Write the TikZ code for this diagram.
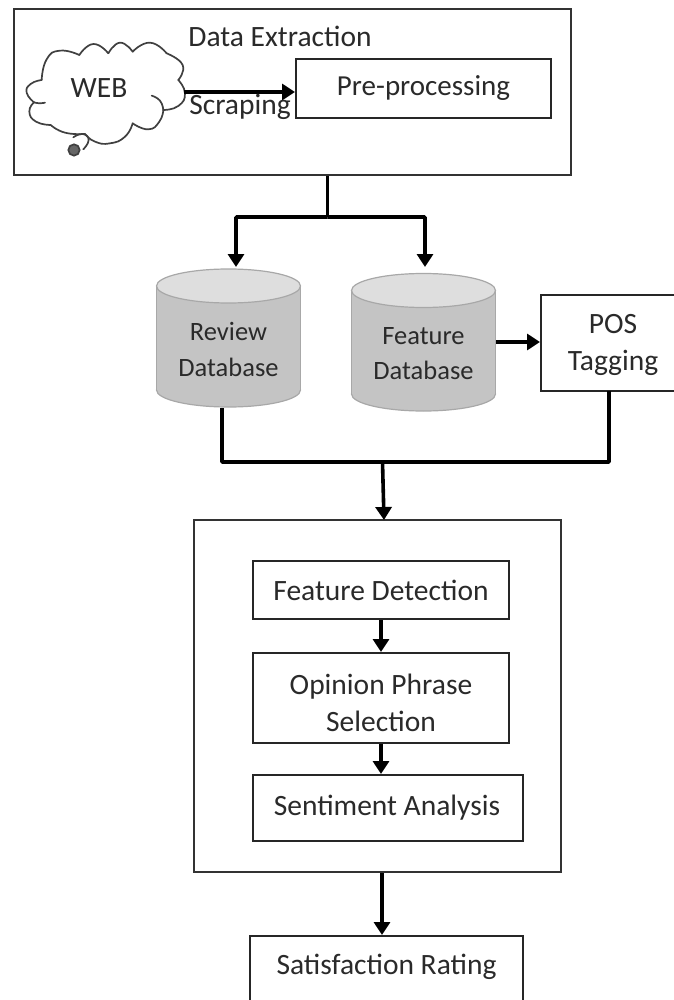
\documentclass[tikz,border=0pt]{standalone}
\usepackage{fontspec}
\setmainfont{Carlito}
\usetikzlibrary{arrows.meta,calc}
\definecolor{txt}{HTML}{2A2A2A}
\definecolor{cylbody}{HTML}{C4C4C4}
\definecolor{cyltop}{HTML}{DEDEDE}
\definecolor{cyledge}{HTML}{A8A8A8}
\tikzset{
  every node/.style={text=txt,font=\fontsize{29.5}{37}\selectfont,align=center,inner sep=0pt},
  boxnode/.style={draw=black!85,line width=2pt,fill=white,rectangle},
  outerbox/.style={draw=black!80,line width=2pt,rectangle},
  flow/.style={draw=black,line width=3.6pt,-{Triangle[length=13pt,width=16pt]}},
  plainline/.style={draw=black,line width=3.6pt,line join=round},
  cloudline/.style={draw=black!75,line width=1.7pt,line cap=round},
  dblabel/.style={font=\fontsize{26.5}{35.5}\selectfont},
}
\newcommand{\dbcyl}[3]{% centre x, top-ellipse y, body-end y
  \fill[cylbody,draw=cyledge,line width=1.2pt] (#1,#3) circle[x radius=72,y radius=17];
  \fill[cylbody] (#1-72,#2) rectangle (#1+72,#3);
  \draw[cyledge,line width=1.2pt] (#1-72,#2) -- (#1-72,#3) (#1+72,#2) -- (#1+72,#3);
  \filldraw[fill=cyltop,draw=cyledge,line width=1.2pt] (#1,#2) circle[x radius=72,y radius=17];
}
\newcommand{\lobe}[1]{\draw[cloudline] plot[smooth,tension=0.9] coordinates {#1};}
\begin{document}
\begin{tikzpicture}[x=1pt,y=-1pt]
\useasboundingbox (0,0) rectangle (673,1000);
\fill[white] (0,0) rectangle (673,1000);
% top box
\node[outerbox,minimum width=557pt,minimum height=166pt] (top) at (292.5,92) {};
\node (dex) at (280,36) {Data Extraction};
\node[boxnode,minimum width=255pt,minimum height=59pt] (pre) at (423.5,88.5) {};
\node[font=\fontsize{29}{37}\selectfont] (pret) at (423.5,88) {Pre-processing};
% cloud
\begin{scope}[shift={(10,30)},x=0.3333pt,y=-0.3333pt]
\lobe{(95,150) (62,162) (50,188) (72,217)}
\lobe{(72,217) (58,245) (78,275) (122,285)}
\lobe{(122,285) (165,308) (225,312)}
\lobe{(225,312) (255,335) (300,340) (345,320) (368,280)}
\lobe{(368,280) (415,298) (448,275) (460,240)}
\lobe{(460,240) (505,228) (525,190) (505,150)}
\lobe{(505,150) (518,105) (470,70)}
\lobe{(470,70) (420,38) (368,65)}
\lobe{(368,65) (330,38) (295,70)}
\lobe{(295,70) (250,42) (208,75)}
\lobe{(208,75) (150,62) (110,88) (95,150)}
\lobe{(425,197) (450,212) (460,240)}
\lobe{(72,217) (88,220) (105,218)}
\lobe{(190,322) (218,312) (236,330) (220,358)}
\draw[cloudline,fill=black!60] (192,360) circle[radius=17];
\end{scope}
\node (web) at (99,88) {WEB};
\coordinate (cloudE) at (184,92);
\draw[flow] (cloudE) -- (pre.west |- cloudE);
\node (scr) at (240,107) {Scraping};
% databases
\dbcyl{228.5}{286}{390}
\dbcyl{423.5}{290.5}{394}
\node[dblabel] (revt) at (228.5,349.5) {Review\\Database};
\node[dblabel] (feat) at (423.5,353.5) {Feature\\Database};
\node[boxnode,minimum width=136pt,minimum height=96pt] (pos) at (609,343) {};
\node (post) at (613,345) {POS\\Tagging};
% top -> dbs
\coordinate (split) at (327.5,217);
\coordinate (revIn) at (236,267);
\coordinate (feaIn) at (425,267);
\draw[plainline] (top.south -| split) -- (split);
\draw[flow,rounded corners=1pt] (split) -| (revIn);
\draw[flow,rounded corners=1pt] (split) -| (feaIn);
\coordinate (feaE) at (496,342);
\draw[flow] (feaE) -- (pos.west |- feaE);
% merge
\coordinate (revOut) at (222,408);
\coordinate (posOut) at (609,391);
\coordinate (merge) at (382.5,462);
\coordinate (mergeEnd) at (384,520);
\draw[plainline] (revOut) |- (merge) -| (posOut);
% analysis block
\node[outerbox,minimum width=367pt,minimum height=352pt] (mid) at (377.5,696) {};
\draw[flow] (merge) -- (mergeEnd);
\node[boxnode,minimum width=256pt,minimum height=58pt] (fd) at (381,590) {Feature Detection};
\node[boxnode,minimum width=256pt,minimum height=90pt] (op) at (381,698) {};
\node (opt) at (381,702.5) {Opinion Phrase\\Selection};
\node[boxnode,minimum width=270pt,minimum height=66pt] (sa) at (388,808) {};
\node (sat) at (387,808) {Sentiment Analysis};
\draw[flow] (fd) -- (op);
\draw[flow] (op.south) -- (op.south |- sa.north);
\node[boxnode,minimum width=273pt,minimum height=84pt] (sr) at (386.5,978) {};
\node (srt) at (386.5,967) {Satisfaction Rating};
\draw[flow] (mid.south -| 382,0) -- (sr.north -| 382,0);
\end{tikzpicture}
\end{document}
